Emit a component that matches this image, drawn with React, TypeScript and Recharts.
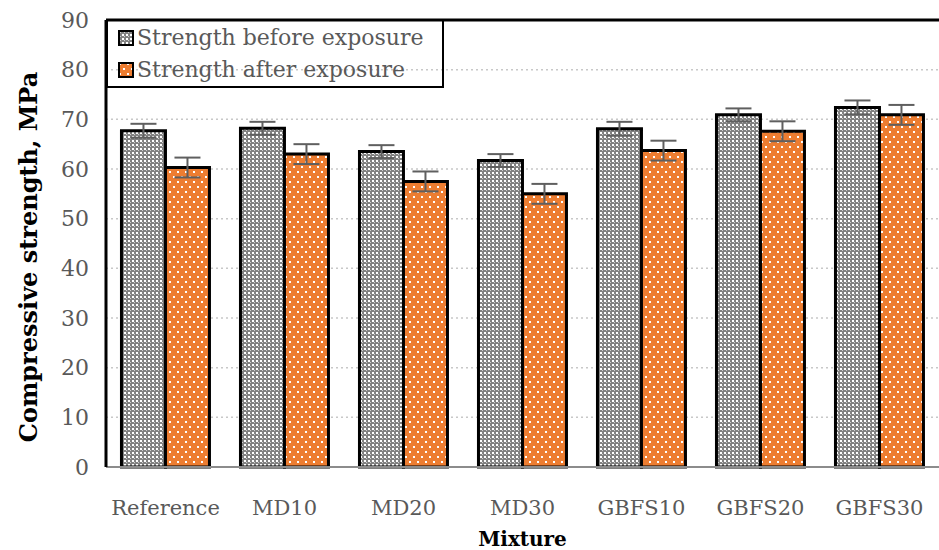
import {
  BarChart,
  Bar,
  XAxis,
  YAxis,
  CartesianGrid,
  ErrorBar,
  ReferenceLine,
} from 'recharts';

const mixtures = ['Reference', 'MD10', 'MD20', 'MD30', 'GBFS10', 'GBFS20', 'GBFS30'];
const beforeExposure = [67.7, 68.2, 63.5, 61.7, 68.1, 70.9, 72.4];
const afterExposure = [60.3, 63.0, 57.5, 55.0, 63.7, 67.6, 70.9];
const beforeError = [1.4, 1.3, 1.3, 1.3, 1.4, 1.3, 1.4];
const afterError = [2.0, 2.0, 2.0, 2.0, 2.0, 2.0, 2.0];
const yTicks = [0, 10, 20, 30, 40, 50, 60, 70, 80, 90];

const data = mixtures.map((name, i) => ({
  name,
  before: beforeExposure[i],
  after: afterExposure[i],
  beforeErr: beforeError[i],
  afterErr: afterError[i],
}));

const FONT = '"DejaVu Serif", serif';
const TEXT_GRAY = '#595959';

const legendItems = [
  { label: 'Strength before exposure', fill: 'url(#checker)' },
  { label: 'Strength after exposure', fill: 'url(#dots)' },
];

function LegendBox() {
  return (
    <div
      style={{
        position: 'absolute',
        left: 106,
        top: 21,
        width: 338,
        height: 67,
        border: '2px solid #000',
        borderTop: 'none',
        boxSizing: 'border-box',
        fontFamily: FONT,
        fontSize: 22,
        color: TEXT_GRAY,
        paddingLeft: 10,
        paddingTop: 1,
        lineHeight: 1,
      }}
    >
      {legendItems.map((it) => (
        <div key={it.label} style={{ display: 'flex', alignItems: 'center', height: 32 }}>
          <svg width={16} height={16} style={{ marginRight: 3 }}>
            <rect x={1} y={1} width={14} height={14} fill={it.fill} stroke="#000" strokeWidth={2} />
          </svg>
          <span>{it.label}</span>
        </div>
      ))}
    </div>
  );
}

// y-axis title sits a little below the plot centre in the original
function YTitle() {
  return (
    <text
      x={0}
      y={0}
      transform="translate(37, 257) rotate(-90)"
      textAnchor="middle"
      fill="#000"
      fontSize={24}
      fontWeight="bold"
      fontFamily={FONT}
    >
      Compressive strength, MPa
    </text>
  );
}

export default function App() {
  return (
    <div style={{ position: 'absolute', left: 0, top: 0, width: 939, height: 550, background: '#fff' }}>
      <svg width={0} height={0} style={{ position: 'absolute' }}>
        <defs>
          <pattern id="checker" width={4} height={4} patternUnits="userSpaceOnUse">
            <rect width={4} height={4} fill="#828282" />
            <rect x={0} y={0} width={2} height={2} fill="#ffffff" />
            <rect x={2} y={2} width={1} height={1} fill="#d0d0d0" />
          </pattern>
          <pattern id="dots" width={8} height={10} patternUnits="userSpaceOnUse">
            <rect width={8} height={10} fill="#ED7D31" />
            <rect x={1} y={1} width={2} height={2} fill="#ffffff" />
            <rect x={5} y={6} width={2} height={2} fill="#ffffff" />
          </pattern>
        </defs>
      </svg>
      <BarChart
        width={939}
        height={550}
        data={data}
        margin={{ top: 20, right: 0, left: 0, bottom: 0 }}
        barGap={0}
        barCategoryGap="13%"
      >
        <CartesianGrid vertical={false} stroke="#c8c8c8" strokeDasharray="2 3" strokeWidth={1.5} />
        <XAxis
          dataKey="name"
          height={83}
          tickLine={false}
          axisLine={{ stroke: '#8c8c8c', strokeWidth: 2 }}
          tick={{ fill: TEXT_GRAY, fontSize: 21, fontFamily: FONT }}
          dy={25}
          label={{
            value: 'Mixture',
            position: 'insideBottom',
            offset: 4,
            fill: '#000',
            fontSize: 20,
            fontWeight: 'bold',
            fontFamily: FONT,
          }}
        />
        <YAxis
          width={106}
          domain={[0, 90]}
          ticks={yTicks}
          interval={0}
          tickLine={false}
          axisLine={{ stroke: '#000', strokeWidth: 3 }}
          tick={{ fill: TEXT_GRAY, fontSize: 22, fontFamily: FONT }}
          dx={-9}
          label={<YTitle />}
        />
        <ReferenceLine y={90} stroke="#000" strokeWidth={3} />
        <Bar
          dataKey="before"
          name="Strength before exposure"
          fill="url(#checker)"
          stroke="#000"
          strokeWidth={3}
          isAnimationActive={false}
        >
          <ErrorBar dataKey="beforeErr" width={13} stroke="#5f5f5f" strokeWidth={2} />
        </Bar>
        <Bar
          dataKey="after"
          name="Strength after exposure"
          fill="url(#dots)"
          stroke="#000"
          strokeWidth={3}
          isAnimationActive={false}
        >
          <ErrorBar dataKey="afterErr" width={13} stroke="#5f5f5f" strokeWidth={2} />
        </Bar>
      </BarChart>
      <LegendBox />
    </div>
  );
}
